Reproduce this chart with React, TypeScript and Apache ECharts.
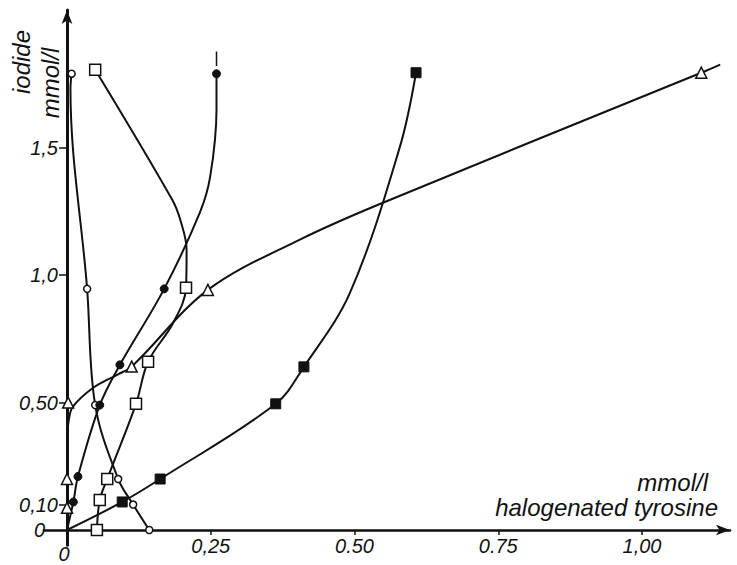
import React, { useEffect, useRef } from "react";
import * as echarts from "echarts";

// Tick values and labels
const X_TICKS = [0, 0.25, 0.5, 0.75, 1.0];
const X_TICK_LABELS = ["0", "0,25", "0.50", "0.75", "1,00"];
const Y_TICKS = [0, 0.1, 0.5, 1.0, 1.5];
const Y_TICK_LABELS = ["0", "0,10", "0,50", "1,0", "1,5"];

// [halogenated tyrosine mmol/l, iodide mmol/l, marker shown (1) or curve knot (0)]
const openCircles = [
  [0.008, 1.79, 1], [0.006, 1.73, 0], [0.035, 0.946, 1], [0.049, 0.49, 1],
  [0.089, 0.2, 1], [0.115, 0.1, 1], [0.143, 0, 1],
];
const filledCircles = [
  [0, 0, 0], [0.011, 0.11, 1], [0.019, 0.21, 1], [0.057, 0.49, 1],
  [0.092, 0.648, 1], [0.169, 0.946, 1], [0.231, 1.245, 0], [0.249, 1.386, 0],
  [0.26, 1.65, 0], [0.26, 1.79, 1],
];
const filledCircleTick = [[0.26, 1.82], [0.26, 1.877]];
const openSquares = [
  [0.052, 0, 1], [0.057, 0.118, 1], [0.07, 0.2, 1], [0.12, 0.495, 1],
  [0.141, 0.66, 1], [0.184, 0.81, 0], [0.207, 0.95, 1], [0.208, 1.1, 0],
  [0.197, 1.217, 0], [0.183, 1.296, 0], [0.049, 1.806, 1],
];
const filledSquares = [
  [0, 0, 0], [0.096, 0.11, 1], [0.162, 0.2, 1], [0.363, 0.495, 1],
  [0.412, 0.64, 1], [0.492, 0.93, 0], [0.579, 1.504, 0], [0.607, 1.794, 1],
];
const trianglesOnAxis = [[0, 0.087], [0, 0.2], [0.002, 0.5]];
const triangles = [
  [0, 0, 0], [0, 0.36, 0], [0.003, 0.43, 0], [0.01, 0.483, 0], [0.045, 0.557, 0],
  [0.087, 0.609, 0], [0.1125, 0.641, 1], [0.245, 0.942, 1], [0.405, 1.139, 0],
  [0.541, 1.276, 0], [1.103, 1.794, 1], [1.136, 1.826, 0],
];

const INK = "#111";
const FONT = "'Liberation Sans', 'DejaVu Sans', sans-serif";

function toData(pts: number[][]) {
  return pts.map((p) =>
    p[2] ? { value: [p[0], p[1]] } : { value: [p[0], p[1]], symbol: "none" }
  );
}

const openStyle = { color: "#fff", borderColor: INK, borderWidth: 1.5, opacity: 1 };
const filledStyle = { color: INK, borderColor: INK, borderWidth: 1, opacity: 1 };

function lineSeries(name: string, pts: number[][], symbol: string, size: number, filled: boolean) {
  return {
    name,
    type: "line",
    smooth: 0.35,
    data: toData(pts),
    symbol,
    symbolSize: size,
    showSymbol: true,
    showAllSymbol: true,
    lineStyle: { color: INK, width: 2 },
    itemStyle: filled ? filledStyle : openStyle,
    z: 3,
  };
}

export default function App() {
  const ref = useRef<HTMLDivElement>(null);
  useEffect(() => {
    if (!ref.current) return;
    const chart = echarts.init(ref.current, undefined, { renderer: "svg" });
    const labelStyle = { color: INK, fontSize: 20, fontStyle: "italic", fontFamily: FONT };
    const txt = { color: INK, fontSize: 20, fontStyle: "italic", fontFamily: FONT };
    chart.setOption({
      animation: false,
      backgroundColor: "#fff",
      grid: { left: 44, right: 7, top: 10, bottom: 19.7, outerBoundsMode: "none", containLabel: false },
      xAxis: {
        type: "value",
        min: -0.04,
        max: 1.153,
        axisLine: { show: true, onZero: true, lineStyle: { color: INK, width: 2.5 }, symbol: ["none", "arrow"], symbolSize: [8, 14] },
        axisTick: { show: true, customValues: X_TICKS.slice(1), length: 5, inside: false, lineStyle: { color: INK, width: 1.5 } },
        axisLabel: {
          ...labelStyle,
          customValues: X_TICKS,
          margin: -9,
          rich: { z: { ...txt, padding: [8, 6, 0, 0] } },
          formatter: (v: number) => {
            const i = X_TICKS.findIndex((t) => Math.abs(t - v) < 1e-6);
            if (i === 0) return "{z|" + X_TICK_LABELS[0] + "}";
            return i >= 0 ? X_TICK_LABELS[i] : "";
          },
        },
        splitLine: { show: false },
      },
      yAxis: {
        type: "value",
        min: -0.06,
        max: 2.04,
        axisLine: { show: true, onZero: true, lineStyle: { color: INK, width: 3 }, symbol: ["none", "arrow"], symbolSize: [8, 14] },
        axisTick: { show: true, customValues: Y_TICKS.slice(1), length: 8, inside: false, lineStyle: { color: INK, width: 1.5 } },
        axisLabel: {
          ...labelStyle,
          customValues: Y_TICKS,
          margin: -14,
          rich: { z: { ...txt, padding: [0, 13, 0, 0] } },
          formatter: (v: number) => {
            const i = Y_TICKS.findIndex((t) => Math.abs(t - v) < 1e-6);
            if (i === 0) return "{z|" + Y_TICK_LABELS[0] + "}";
            return i >= 0 ? Y_TICK_LABELS[i] : "";
          },
        },
        splitLine: { show: false },
      },
      graphic: [
        { type: "text", x: 21, y: 62, rotation: Math.PI / 2, style: { text: "iodide", fill: INK, font: `italic 24px ${FONT}`, align: "center", verticalAlign: "middle" } },
        { type: "text", x: 50, y: 83, rotation: Math.PI / 2, style: { text: "mmol/l", fill: INK, font: `italic 24px ${FONT}`, align: "center", verticalAlign: "middle" } },
        { type: "text", x: 708, y: 482, style: { text: "mmol/l", fill: INK, font: `italic 24px ${FONT}`, align: "right", verticalAlign: "middle" } },
        { type: "text", x: 718, y: 507, style: { text: "halogenated tyrosine", fill: INK, font: `italic 24px ${FONT}`, align: "right", verticalAlign: "middle" } },
      ],
      series: [
        lineSeries("open circles", openCircles, "circle", 7, false),
        lineSeries("filled circles", filledCircles, "circle", 8, true),
        {
          name: "filled circles tick",
          type: "line",
          data: filledCircleTick,
          symbol: "none",
          lineStyle: { color: INK, width: 1.5 },
        },
        lineSeries("open squares", openSquares, "rect", 11, false),
        lineSeries("filled squares", filledSquares, "rect", 10, true),
        lineSeries("triangles", triangles, "triangle", 11, false),
        {
          name: "triangles on axis",
          type: "scatter",
          data: trianglesOnAxis,
          symbol: "triangle",
          symbolSize: 11,
          itemStyle: openStyle,
          z: 4,
        },
      ],
    });
    return () => chart.dispose();
  }, []);
  return <div ref={ref} style={{ position: "fixed", left: 0, top: 0, width: 737, height: 565, background: "#fff" }} />;
}
